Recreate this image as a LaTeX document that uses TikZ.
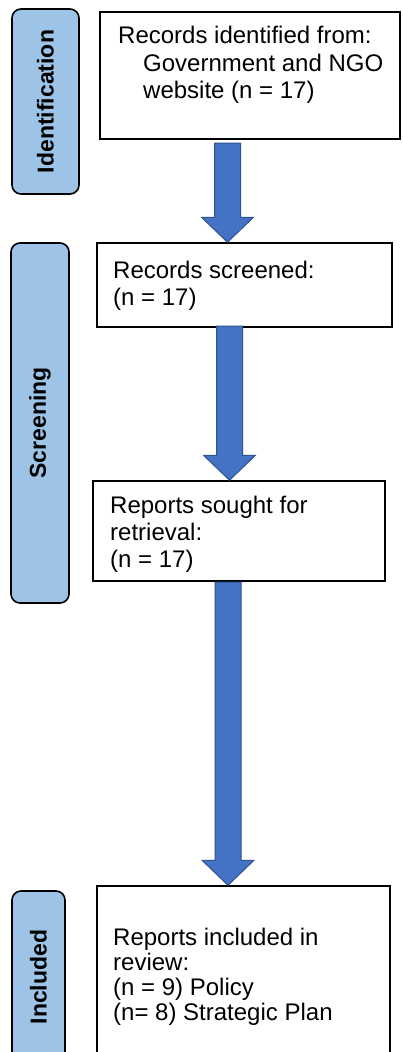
\documentclass[tikz,border=0pt]{standalone}
\usepackage{fontspec}
\setmainfont{Liberation Sans}
\usetikzlibrary{calc}

\definecolor{barblue}{HTML}{9DC3E6}
\definecolor{arrowblue}{HTML}{4472C4}
\definecolor{arrowedge}{HTML}{2F528F}

\tikzset{
  stagebar/.style={draw=black, line width=1.6pt, fill=barblue, rounded corners=9pt,
    rotate=90, inner sep=0pt, font=\bfseries\fontsize{23}{27}\selectfont},
  recbox/.style={draw=black, line width=1.5pt, fill=white, inner sep=0pt},
  rectext/.style={anchor=base west, inner sep=0pt, align=left},
  flowarrow/.style={fill=arrowblue, draw=arrowedge, line width=1pt, line join=miter}
}

\begin{document}
\begin{tikzpicture}[x=1pt, y=-1pt, font=\fontsize{24}{27.5}\selectfont]

    \useasboundingbox (0,0) rectangle (403,1052);
    \clip (0,0) rectangle (403,1052);

    % stage bars on the left
    \node[stagebar, minimum width=185pt, minimum height=67pt] (idbar) at (45.5,101.5) {Identification};
    \node[stagebar, minimum width=360pt, minimum height=58pt] (scbar) at (40,423) {Screening};
    \node[stagebar, minimum width=172pt, minimum height=53pt] (inbar) at (38.5,977) {Included};

    % record boxes
    \node[recbox, minimum width=300pt, minimum height=127pt] (recbox) at (250,75.5) {};
    \node[recbox, minimum width=295pt, minimum height=84pt] (scrbox) at (244.5,285) {};
    \node[recbox, minimum width=292pt, minimum height=100pt] (rptbox) at (239,531) {};
    \node[recbox, minimum width=293pt, minimum height=184pt] (incbox) at (243.5,978) {};

    % texts sit on the baseline of their last line
    \node[rectext] (rectxt) at (118,98.5) {Records identified from:\\\hspace*{25pt}Government and NGO\\\hspace*{25pt}website (n = 17)};
    \node[rectext, font=\fontsize{24}{27}\selectfont] (scrtxt) at (113,305) {Records screened:\\(n = 17)};
    \node[rectext, font=\fontsize{24}{27}\selectfont] (rpttxt) at (110,567) {Reports sought for\\retrieval:\\(n = 17)};
    \node[rectext, font=\fontsize{24}{24.7}\selectfont] (inctxt) at (113,1020) {Reports included in\\review:\\(n = 9) Policy\\(n= 8) Strategic Plan};

    % block arrows between the boxes
    \coordinate (s1) at (227.5,143);
    \coordinate (s2) at (229.5,326);
    \coordinate (s3) at (228,582);
    \foreach \s/\t in {s1/scrbox, s2/rptbox, s3/incbox}
        \draw[flowarrow] let \p1 = (\s), \p2 = (\s |- \t.north) in
            (\x1-13pt,\y1) -- (\x1+13pt,\y1) -- (\x1+13pt,\y2+25pt) -- (\x1+26pt,\y2+25pt)
            -- (\x1,\y2) -- (\x1-26pt,\y2+25pt) -- (\x1-13pt,\y2+25pt) -- cycle;

\end{tikzpicture}
\end{document}
